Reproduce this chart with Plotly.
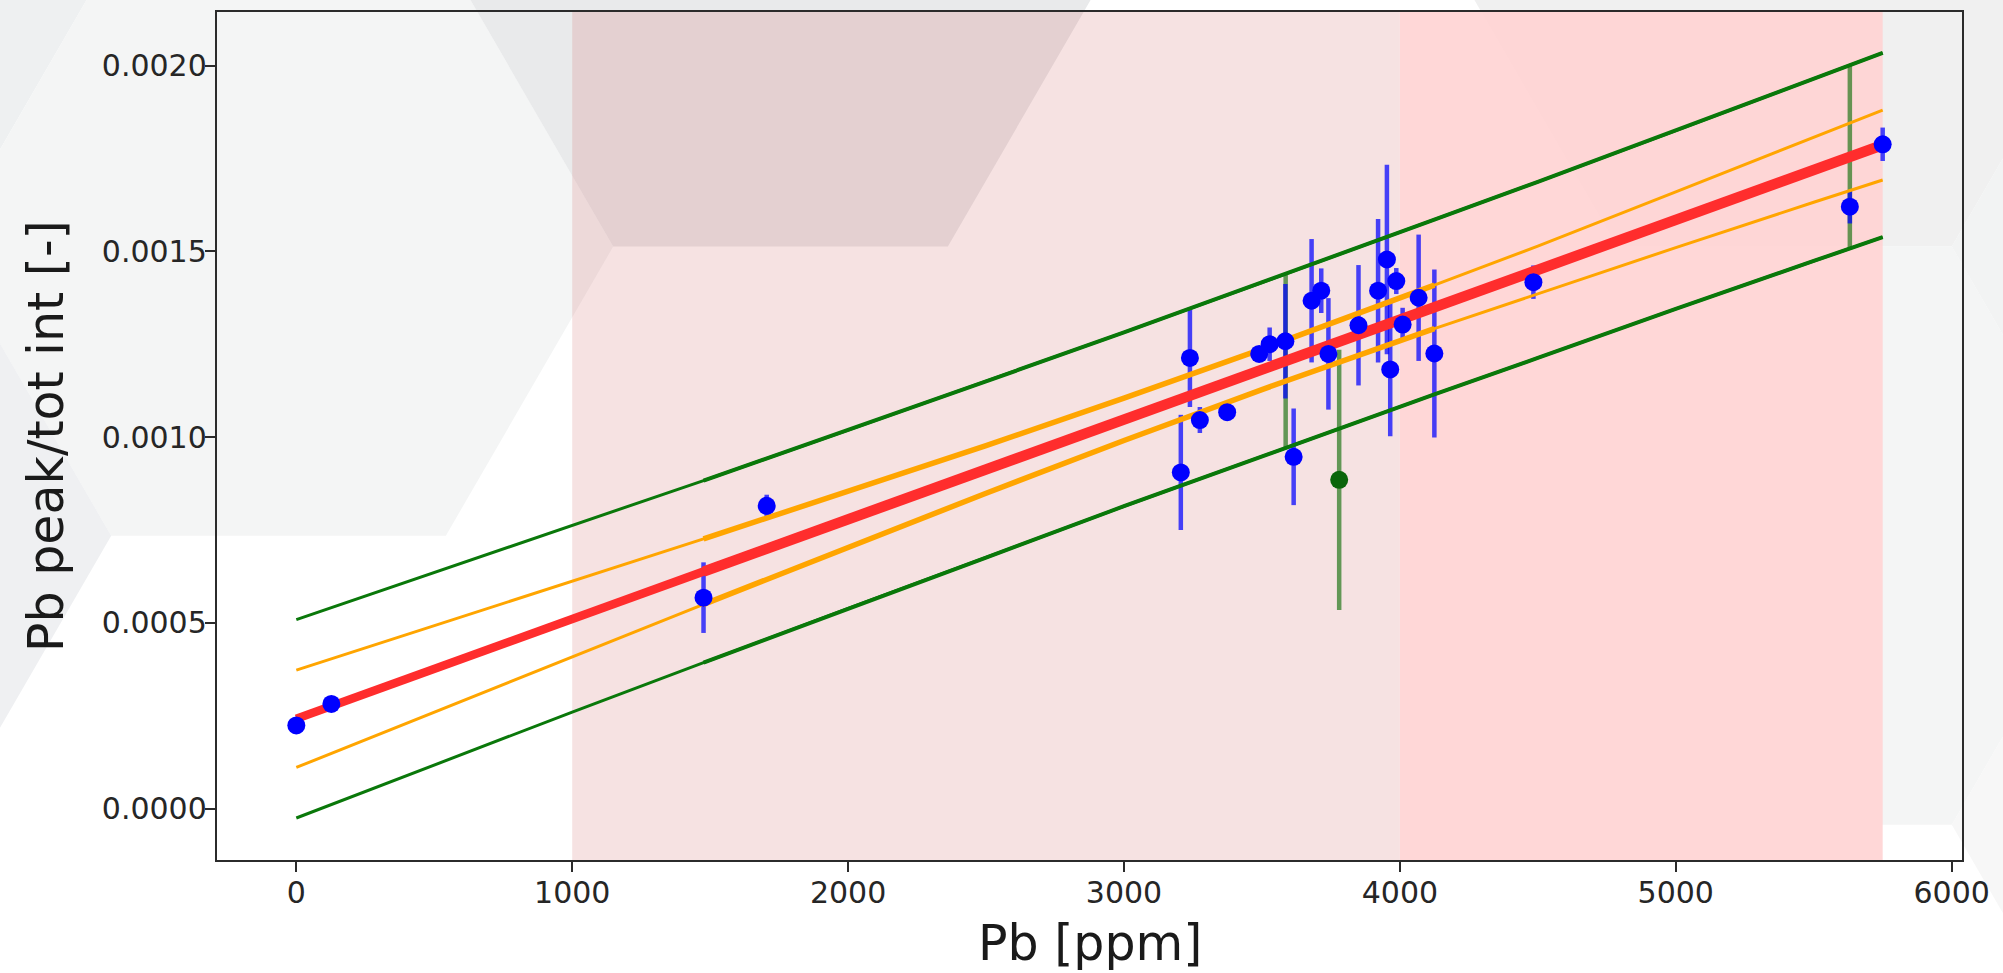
import math
import plotly.graph_objects as go

# ---------------- data ----------------
pb_ppm = [0, 127, 1476, 1705, 3206, 3239, 3275, 3374, 3490, 3528, 3585, 3615, 3680,
          3715, 3741, 3850, 3921, 3953, 3965, 3987, 4010, 4068, 4125, 4484, 5631, 5750]
ratio = [0.000224, 0.000282, 0.000568, 0.000815, 0.000905, 0.001213, 0.001046, 0.001067,
         0.001224, 0.001250, 0.001258, 0.000947, 0.001367, 0.001394, 0.001224, 0.001301,
         0.001394, 0.001478, 0.001182, 0.001420, 0.001303, 0.001375, 0.001225, 0.001417,
         0.001620, 0.001788]
ratio_err = [0.00001, 0.00001, 0.000095, 0.00003, 0.000155, 0.000132, 0.000035, 0.000022,
             0.00002, 0.000045, 0.000154, 0.00013, 0.000166, 0.00006, 0.00015, 0.000162,
             0.000193, 0.000255, 0.00018, 0.000035, 0.000045, 0.00017, 0.000226, 0.000045,
             0.000045, 0.000045]

excl_ppm = [3586, 3780, 5631]
excl_ratio = [0.001205, 0.000885, 0.001754]
excl_err = [0.000234, 0.00035, 0.000247]
excl_marker_shown = [False, True, False]

band_x = [0, 500, 1000, 1476, 2000, 2500, 3000, 3500, 4125, 4500, 5000, 5500, 5750]
fit_y = [0.000242, 0.000376, 0.000511, 0.000638, 0.000779, 0.000913, 0.001048, 0.001182,
         0.001350, 0.001450, 0.001585, 0.001719, 0.001786]
conf_upper = [0.000373, 0.000492, 0.000612, 0.000726, 0.000854, 0.000977, 0.001105, 0.001237,
              0.001409, 0.001514, 0.001660, 0.001806, 0.001880]
conf_lower = [0.000111, 0.000260, 0.000410, 0.000550, 0.000704, 0.000849, 0.000991, 0.001128,
              0.001292, 0.001386, 0.001510, 0.001632, 0.001692]
pred_upper = [0.000509, 0.000635, 0.000762, 0.000883, 0.001019, 0.001150, 0.001282, 0.001416,
              0.001585, 0.001687, 0.001825, 0.001964, 0.002034]
pred_lower = [-0.000025, 0.000117, 0.000260, 0.000393, 0.000539, 0.000676, 0.000814, 0.000948,
              0.001115, 0.001213, 0.001345, 0.001474, 0.001538]

span_mid = [1000, 4000]
span_high = [4000, 5750]

x_tick_vals = [0, 1000, 2000, 3000, 4000, 5000, 6000]
x_tick_text = ["0", "1000", "2000", "3000", "4000", "5000", "6000"]
y_tick_vals = [0.0, 0.0005, 0.0010, 0.0015, 0.0020]
y_tick_text = ["0.0000", "0.0005", "0.0010", "0.0015", "0.0020"]

x_range = [-287.5, 6037.5]
y_range = [-0.000138, 0.002144]

x_title = "Pb [ppm]"
y_title = "Pb peak/tot int [-]"

# ---------------- geometry / style ----------------
W, H = 2003, 973
L, R, T, B = 217, 41, 10, 113
PW, PH = W - L - R, H - T - B
FONT = "DejaVu Sans"


def to_paper(X, Y):
    return (X - L) / PW, (T + PH - Y) / PH


def hex_path(cx, cy, s):
    h = s * math.sqrt(3) / 2
    pts = [(cx - s, cy), (cx - s / 2, cy - h), (cx + s / 2, cy - h),
           (cx + s, cy), (cx + s / 2, cy + h), (cx - s / 2, cy + h)]
    pp = [to_paper(px, py) for px, py in pts]
    return "M " + " L ".join(f"{a:.5f},{b:.5f}" for a, b in pp) + " Z"


HEX_S = 334.7
background_hexes = [
    (-223.5, -44.7, "#eef0f1"),
    (278.5, 245.1, "#f4f5f5"),
    (-223.5, 534.9, "#eff0f2"),
    (780.5, -44.7, "#e9eaeb"),
    (1784.5, -44.7, "#f0f0f0"),
    (1784.5, 534.9, "#f4f5f5"),
    (2286.5, 245.1, "#f2f3f3"),
    (2286.5, 824.7, "#f7f7f7"),
]

shapes = []
for cx, cy, col in background_hexes:
    shapes.append(dict(type="path", path=hex_path(cx, cy, HEX_S), xref="paper", yref="paper",
                       fillcolor=col, line=dict(width=0), layer="below"))

shapes.append(dict(type="rect", xref="x", yref="paper", x0=span_mid[0], x1=span_mid[1],
                   y0=0, y1=1, fillcolor="rgba(205,92,92,0.18)", line=dict(width=0), layer="below"))
shapes.append(dict(type="rect", xref="x", yref="paper", x0=span_high[0], x1=span_high[1],
                   y0=0, y1=1, fillcolor="rgba(255,212,212,0.92)", line=dict(width=0), layer="below"))

fig = go.Figure()

# error bars (drawn below the fit lines)
fig.add_trace(go.Scatter(
    x=excl_ppm, y=excl_ratio, mode="markers",
    marker=dict(size=1, color="rgba(0,0,0,0)"),
    error_y=dict(type="data", array=excl_err, visible=True, color="rgba(20,110,10,0.65)",
                 thickness=4.5, width=0),
    hoverinfo="skip", showlegend=False))
fig.add_trace(go.Scatter(
    x=pb_ppm, y=ratio, mode="markers",
    marker=dict(size=1, color="rgba(0,0,0,0)"),
    error_y=dict(type="data", array=ratio_err, visible=True, color="rgba(0,0,255,0.72)",
                 thickness=4.5, width=0),
    hoverinfo="skip", showlegend=False))


def seg(xs, ys, lo, hi):
    sx, sy = [], []
    for a, b in zip(xs, ys):
        if lo <= a <= hi:
            sx.append(a)
            sy.append(b)
    return sx, sy


GREEN = "#0a780a"
ORANGE = "#ffa500"
RED = "#ff2d2d"
data_lo = pb_ppm[2]

for yy in (pred_upper, pred_lower):
    fig.add_trace(go.Scatter(x=band_x, y=yy, mode="lines", line=dict(color=GREEN, width=3),
                             hoverinfo="skip", showlegend=False))
    sx, sy = seg(band_x, yy, data_lo, span_high[1])
    fig.add_trace(go.Scatter(x=sx, y=sy, mode="lines", line=dict(color=GREEN, width=4),
                             hoverinfo="skip", showlegend=False))

for yy in (conf_upper, conf_lower):
    fig.add_trace(go.Scatter(x=band_x, y=yy, mode="lines", line=dict(color=ORANGE, width=3),
                             hoverinfo="skip", showlegend=False))
    sx, sy = seg(band_x, yy, data_lo, 4125)
    fig.add_trace(go.Scatter(x=sx, y=sy, mode="lines", line=dict(color=ORANGE, width=5.5),
                             hoverinfo="skip", showlegend=False))

fig.add_trace(go.Scatter(x=band_x, y=fit_y, mode="lines", line=dict(color=RED, width=8.5),
                         hoverinfo="skip", showlegend=False))
sx, sy = seg(band_x, fit_y, data_lo, span_high[1])
fig.add_trace(go.Scatter(x=sx, y=sy, mode="lines", line=dict(color=RED, width=10.5),
                         hoverinfo="skip", showlegend=False))

# markers on top
gx = [x for x, s in zip(excl_ppm, excl_marker_shown) if s]
gy = [y for y, s in zip(excl_ratio, excl_marker_shown) if s]
fig.add_trace(go.Scatter(x=gx, y=gy, mode="markers",
                         marker=dict(size=18, color="#0b650b", line=dict(width=0)),
                         showlegend=False))
fig.add_trace(go.Scatter(x=pb_ppm, y=ratio, mode="markers",
                         marker=dict(size=18, color="#0000ff", line=dict(width=0)),
                         showlegend=False))

axis_common = dict(showgrid=False, zeroline=False, showline=True, mirror=True,
                   linecolor="#2b2b2b", linewidth=2.4, ticks="outside", ticklen=10,
                   tickwidth=2.4, tickcolor="#2b2b2b",
                   tickfont=dict(family=FONT, size=30, color="#262626"))

fig.update_layout(
    width=W, height=H,
    margin=dict(l=L, r=R, t=T, b=B, pad=0),
    paper_bgcolor="white",
    plot_bgcolor="rgba(0,0,0,0)",
    showlegend=False,
    shapes=shapes,
    xaxis=dict(range=x_range, tickvals=x_tick_vals, ticktext=x_tick_text,
               ticklabelstandoff=-5, **axis_common),
    yaxis=dict(range=y_range, tickvals=y_tick_vals, ticktext=y_tick_text,
               ticklabelstandoff=-8, **axis_common),
    annotations=[
        dict(text=x_title, xref="paper", yref="paper", x=0.5, y=to_paper(0, 944)[1],
             xanchor="center", yanchor="middle", showarrow=False,
             font=dict(family=FONT, size=49, color="#1a1a1a")),
        dict(text=y_title, xref="paper", yref="paper", x=to_paper(46, 0)[0], y=0.5,
             xanchor="center", yanchor="middle", showarrow=False, textangle=-90,
             font=dict(family=FONT, size=49, color="#1a1a1a")),
    ],
)

fig.write_html("out.html", config={"displayModeBar": False},
               post_script="document.body.style.margin='0';document.body.style.overflow='hidden';")
